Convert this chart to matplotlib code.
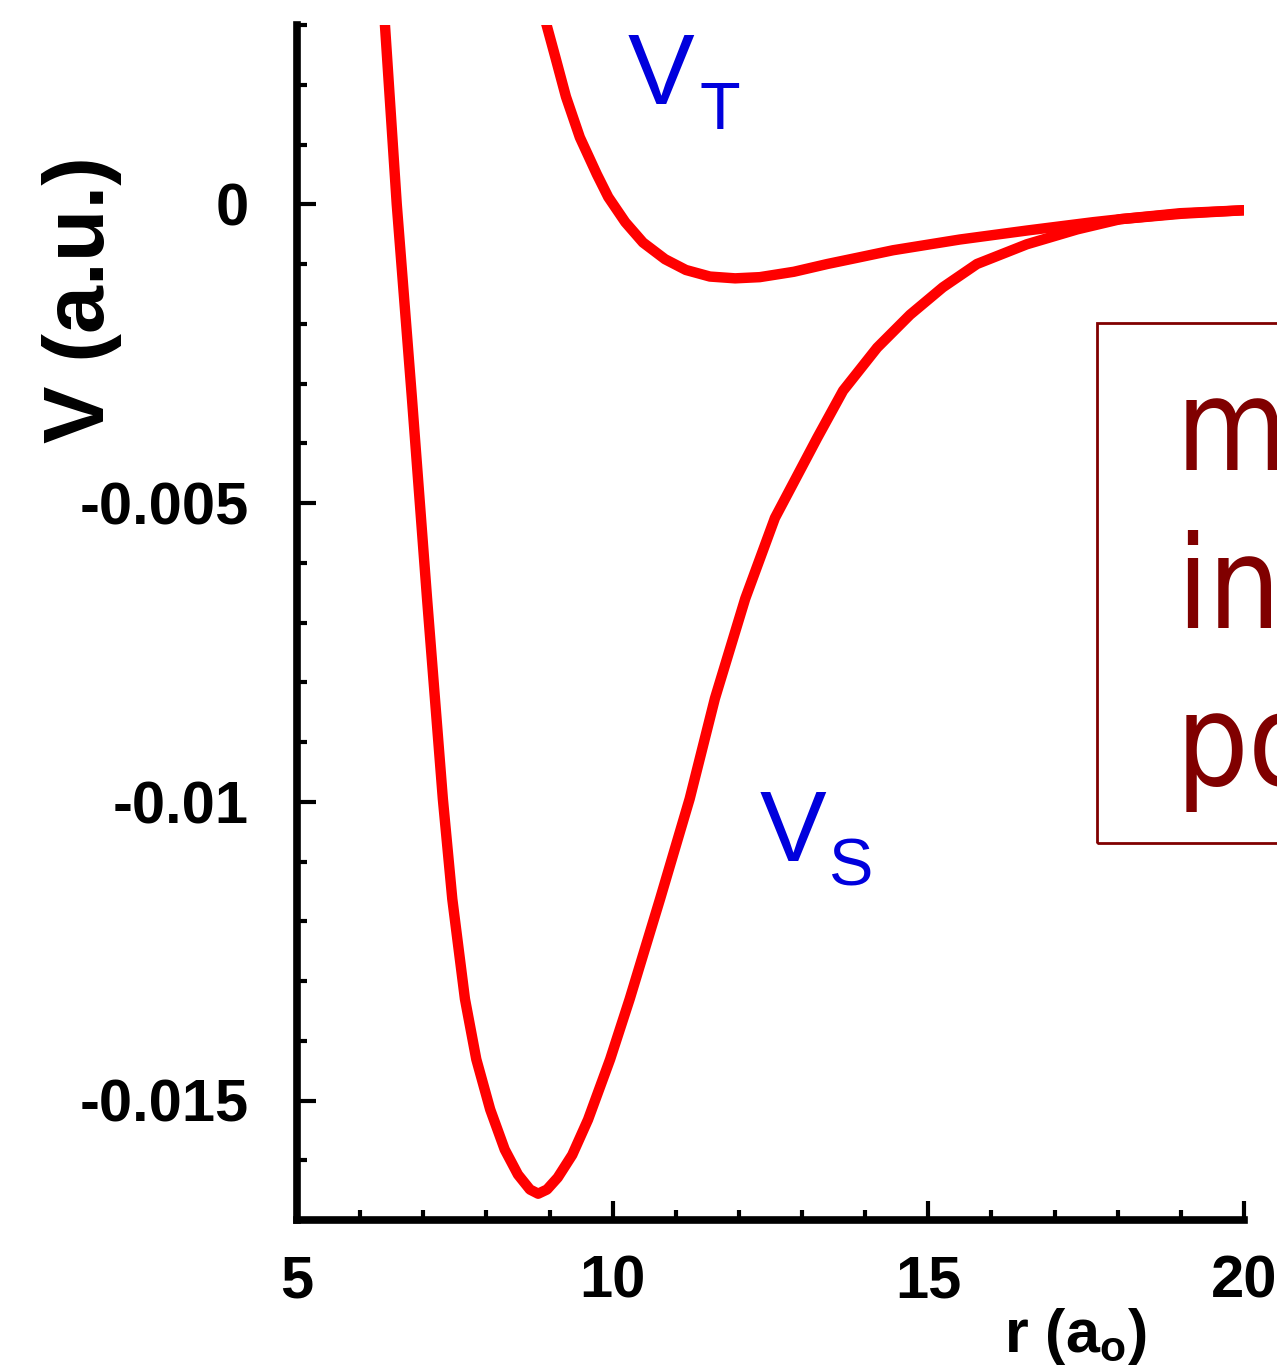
import matplotlib
matplotlib.use("Agg")
import matplotlib.pyplot as plt
from matplotlib.patches import Rectangle
from matplotlib.font_manager import FontProperties
from matplotlib.ticker import MultipleLocator, FixedLocator

# singlet potential V_S(r), r in bohr, V in hartree
r_s = [6.39, 6.58, 6.82, 7.06, 7.31, 7.46, 7.66, 7.84, 8.06, 8.29, 8.50, 8.69,
       8.82, 8.96, 9.13, 9.36, 9.61, 9.96, 10.27, 10.75, 11.22, 11.62, 12.10,
       12.57, 13.24, 13.65, 14.19, 14.71, 15.23, 15.77, 16.56, 17.36, 18.04,
       18.99, 20.0]
v_s = [0.00305, 0.0, -0.00324, -0.0066, -0.00995, -0.01163, -0.0133, -0.01431,
       -0.01515, -0.01582, -0.01624, -0.01649, -0.01656, -0.01649, -0.01629,
       -0.01591, -0.01532, -0.01431, -0.0133, -0.01163, -0.00995, -0.00827,
       -0.0066, -0.00525, -0.00391, -0.00312, -0.0024, -0.00185, -0.00139,
       -0.001, -0.00067, -0.00042, -0.00025, -0.00015, -0.0001]

# triplet potential V_T(r)
r_t = [8.93, 9.09, 9.26, 9.48, 9.75, 9.93, 10.2, 10.48, 10.83, 11.16, 11.54,
       11.94, 12.33, 12.87, 13.4, 13.9, 14.44, 15.5, 16.56, 17.61, 18.04,
       19.0, 20.0]
v_t = [0.00309, 0.00247, 0.0018, 0.00112, 0.0005, 0.00012, -0.0003, -0.00064,
       -0.00092, -0.0011, -0.00121, -0.00124, -0.00122, -0.00113, -0.001,
       -0.00089, -0.00077, -0.00059, -0.00044, -0.0003, -0.00025, -0.00016,
       -0.0001]

x_ticks = [5, 10, 15, 20]
y_ticks = [0, -0.005, -0.01, -0.015]
y_tick_labels = ["0", "-0.005", "-0.01", "-0.015"]

W, H = 1277, 1369
fig = plt.figure(figsize=(W / 100, H / 100), dpi=100)
ax = fig.add_axes([297 / W, 1 - 1220 / H, (1244 - 297) / W, (1220 - 25) / H])

red = "#ff0000"
blue = "#0000dd"
dark_red = "#800000"

for r, v in [(r_s, v_s), (r_t, v_t)]:
    ax.plot(r, v, color=red, lw=7.5, solid_capstyle="round",
            solid_joinstyle="round")

ax.set_xlim(5, 20)
ax.set_ylim(-0.017, 0.003)

for side in ["top", "right"]:
    ax.spines[side].set_visible(False)
for side in ["left", "bottom"]:
    ax.spines[side].set_linewidth(5.5)

ax.xaxis.set_major_locator(FixedLocator(x_ticks))
ax.xaxis.set_minor_locator(MultipleLocator(1))
ax.yaxis.set_major_locator(FixedLocator(y_ticks))
ax.yaxis.set_minor_locator(MultipleLocator(0.001))
ax.set_yticklabels(y_tick_labels)

tick_font = FontProperties(family="Liberation Sans", weight="bold", size=43)
ax.tick_params(which="major", direction="in", length=14, width=3)
ax.tick_params(which="minor", direction="in", length=7, width=3)
ax.tick_params(axis="y", which="major", pad=35)
ax.tick_params(axis="x", which="major", pad=25)
for lab in ax.get_xticklabels() + ax.get_yticklabels():
    lab.set_fontproperties(tick_font)

# axis titles
fig.text(82 / W, 1 - 300 / H, "V (a.u.)", rotation=90, ha="center", va="center",
         family="Liberation Sans", weight="bold", fontsize=62)
fig.text(1075 / W, 1 - 1352 / H, "r (a$_\\mathregular{o}$)", ha="center",
         va="baseline", family="Liberation Sans", weight="bold", fontsize=44)

# curve labels
lab_font = dict(family="Liberation Sans", color=blue, va="baseline", ha="left")
ax.text(10.24, 0.00168, "V", fontsize=72, **lab_font)
ax.text(11.38, 0.00126, "T", fontsize=48, **lab_font)
ax.text(12.33, -0.01099, "V", fontsize=72, **lab_font)
ax.text(13.41, -0.01141, "S", fontsize=48, **lab_font)

# boxed note running off the right edge
fig.patches.append(Rectangle((1097 / W, 1 - 843 / H), 300 / W, (843 - 323) / H,
                             transform=fig.transFigure, fill=False,
                             edgecolor=dark_red, lw=2))
fig.text(1176 / W, 1 - 785 / H, "model\ninteraction\npotentials", ha="left",
         va="baseline", family="DejaVu Sans", stretch="condensed",
         color=dark_red, fontsize=92, linespacing=1.33)

fig.savefig("out.png", dpi=100)
